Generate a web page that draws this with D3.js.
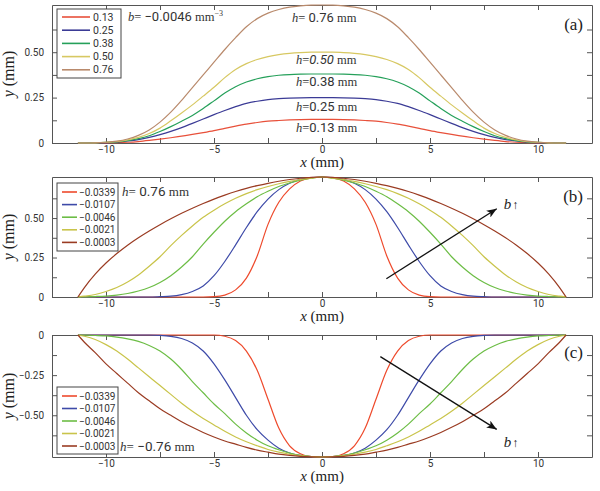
<!DOCTYPE html>
<html><head><meta charset="utf-8">
<script src="https://cdn.jsdelivr.net/npm/d3@7"></script>
<style>body{margin:0;background:#fff;} svg{display:block;}</style>
</head><body><svg id="c" width="600" height="491"></svg>
<script>
// ---------- DATA ----------
const xs = [-11.3,-11,-10.5,-10,-9.5,-9,-8.5,-8,-7.5,-7,-6.5,-6,-5.5,-5,-4.5,-4,-3.5,-3,-2.5,-2,-1.5,-1,-0.5,0,0.5,1,1.5,2,2.5,3,3.5,4,4.5,5,5.5,6,6.5,7,7.5,8,8.5,9,9.5,10,10.5,11,11.3];

// panel (a): b = -0.0046, varying h
const hLabels = ["0.13","0.25","0.38","0.50","0.76"];
const a013 = [0,0,0,0.001,0.002,0.004,0.008,0.014,0.021,0.029,0.038,0.047,0.057,0.068,0.081,0.093,0.104,0.113,0.12,0.124,0.127,0.129,0.13,0.13,0.13,0.129,0.127,0.124,0.12,0.113,0.104,0.093,0.081,0.068,0.057,0.047,0.038,0.029,0.021,0.014,0.008,0.004,0.002,0.001,0,0,0];
const a025 = [0,0,0.001,0.002,0.005,0.011,0.019,0.031,0.046,0.064,0.085,0.108,0.132,0.156,0.179,0.2,0.218,0.23,0.239,0.244,0.247,0.249,0.25,0.25,0.25,0.249,0.247,0.244,0.239,0.23,0.218,0.2,0.179,0.156,0.132,0.108,0.085,0.064,0.046,0.031,0.019,0.011,0.005,0.002,0.001,0,0];
const a038 = [0,0,0.001,0.003,0.006,0.013,0.024,0.04,0.063,0.09,0.12,0.152,0.19,0.232,0.275,0.31,0.336,0.354,0.366,0.373,0.377,0.379,0.38,0.38,0.38,0.379,0.377,0.373,0.366,0.354,0.336,0.31,0.275,0.232,0.19,0.152,0.12,0.09,0.063,0.04,0.024,0.013,0.006,0.003,0.001,0,0];
const a050 = [0,0,0.001,0.004,0.008,0.017,0.031,0.052,0.082,0.122,0.165,0.21,0.258,0.307,0.36,0.405,0.437,0.46,0.476,0.487,0.494,0.498,0.5,0.5,0.5,0.498,0.494,0.487,0.476,0.46,0.437,0.405,0.36,0.307,0.258,0.21,0.165,0.122,0.082,0.052,0.031,0.017,0.008,0.004,0.001,0,0];
const a076 = [0,0,0.001,0.004,0.01,0.022,0.042,0.072,0.115,0.17,0.235,0.305,0.375,0.445,0.515,0.58,0.64,0.685,0.715,0.735,0.748,0.755,0.759,0.76,0.759,0.755,0.748,0.735,0.715,0.685,0.64,0.58,0.515,0.445,0.375,0.305,0.235,0.17,0.115,0.072,0.042,0.022,0.01,0.004,0.001,0,0];

// panel (b): h = 0.76, varying b
const bLabels = ["\u22120.0339","\u22120.0107","\u22120.0046","\u22120.0021","\u22120.0003"];
const b0339 = [0,0,0,0,0,0,0,0,0,0,0,0,0,0.002,0.012,0.045,0.12,0.26,0.46,0.6,0.685,0.735,0.755,0.76,0.755,0.735,0.685,0.6,0.46,0.26,0.12,0.045,0.012,0.002,0,0,0,0,0,0,0,0,0,0,0,0,0];
const b0107 = [0,0,0,0,0,0,0,0,0.002,0.005,0.015,0.035,0.07,0.135,0.225,0.33,0.44,0.54,0.62,0.68,0.72,0.745,0.757,0.76,0.757,0.745,0.72,0.68,0.62,0.54,0.44,0.33,0.225,0.135,0.07,0.035,0.015,0.005,0.002,0,0,0,0,0,0,0,0];
const b0046 = [0,0.001,0.003,0.006,0.012,0.022,0.038,0.06,0.092,0.135,0.19,0.255,0.335,0.41,0.48,0.54,0.59,0.635,0.67,0.7,0.722,0.74,0.752,0.76,0.752,0.74,0.722,0.7,0.67,0.635,0.59,0.54,0.48,0.41,0.335,0.255,0.19,0.135,0.092,0.06,0.038,0.022,0.012,0.006,0.003,0.001,0];
const b0021 = [0,0.005,0.016,0.035,0.06,0.095,0.14,0.195,0.255,0.325,0.39,0.45,0.505,0.55,0.59,0.625,0.655,0.68,0.7,0.717,0.732,0.744,0.753,0.76,0.753,0.744,0.732,0.717,0.7,0.68,0.655,0.625,0.59,0.55,0.505,0.45,0.39,0.325,0.255,0.195,0.14,0.095,0.06,0.035,0.016,0.005,0];
const b0003 = [0,0.06,0.145,0.215,0.275,0.328,0.375,0.418,0.458,0.495,0.53,0.562,0.592,0.62,0.645,0.668,0.688,0.705,0.72,0.733,0.744,0.752,0.758,0.76,0.758,0.752,0.744,0.733,0.72,0.705,0.688,0.668,0.645,0.62,0.592,0.562,0.53,0.495,0.458,0.418,0.375,0.328,0.275,0.215,0.145,0.06,0];

// panel (c): h = -0.76, varying b
const c0339 = [0,0,0,0,0,0,0,0,0,0,0,0,0,0,-0.008,-0.035,-0.1,-0.22,-0.4,-0.58,-0.69,-0.74,-0.758,-0.76,-0.758,-0.74,-0.69,-0.58,-0.4,-0.22,-0.1,-0.035,-0.008,0,0,0,0,0,0,0,0,0,0,0,0,0,0];
const c0107 = [0,0,0,0,0,0,0,0,-0.002,-0.008,-0.022,-0.05,-0.1,-0.18,-0.28,-0.39,-0.5,-0.59,-0.655,-0.705,-0.735,-0.75,-0.758,-0.76,-0.758,-0.75,-0.735,-0.705,-0.655,-0.59,-0.5,-0.39,-0.28,-0.18,-0.1,-0.05,-0.022,-0.008,-0.002,0,0,0,0,0,0,0,0];
const c0046 = [0,-0.001,-0.003,-0.006,-0.013,-0.024,-0.04,-0.065,-0.1,-0.15,-0.215,-0.29,-0.36,-0.43,-0.49,-0.555,-0.61,-0.655,-0.69,-0.715,-0.735,-0.75,-0.757,-0.76,-0.757,-0.75,-0.735,-0.715,-0.69,-0.655,-0.61,-0.555,-0.49,-0.43,-0.36,-0.29,-0.215,-0.15,-0.1,-0.065,-0.04,-0.024,-0.013,-0.006,-0.003,-0.001,0];
const c0021 = [0,-0.008,-0.028,-0.06,-0.1,-0.15,-0.205,-0.26,-0.315,-0.37,-0.425,-0.475,-0.52,-0.56,-0.6,-0.635,-0.665,-0.69,-0.713,-0.73,-0.743,-0.752,-0.757,-0.76,-0.757,-0.752,-0.743,-0.73,-0.713,-0.69,-0.665,-0.635,-0.6,-0.56,-0.52,-0.475,-0.425,-0.37,-0.315,-0.26,-0.205,-0.15,-0.1,-0.06,-0.028,-0.008,0];
const c0003 = [0,-0.045,-0.11,-0.18,-0.24,-0.3,-0.36,-0.41,-0.46,-0.5,-0.54,-0.575,-0.607,-0.635,-0.66,-0.68,-0.7,-0.717,-0.73,-0.742,-0.75,-0.756,-0.759,-0.76,-0.759,-0.756,-0.75,-0.742,-0.73,-0.717,-0.7,-0.68,-0.66,-0.635,-0.607,-0.575,-0.54,-0.5,-0.46,-0.41,-0.36,-0.3,-0.24,-0.18,-0.11,-0.045,0];

const xTicks = [-10,-7.5,-5,-2.5,0,2.5,5,7.5,10];
const xTickLabels = {"-10":"\u221210","-5":"\u22125","0":"0","5":"5","10":"10"};
const yTicksPos = [0,0.125,0.25,0.375,0.5,0.625];
const yLabelsPos = {"0":"0","0.25":"0.25","0.5":"0.50"};
const yTicksNeg = [-0.625,-0.5,-0.375,-0.25,-0.125,0];
const yLabelsNeg = {"0":"0","-0.25":"\u22120.25","-0.5":"\u22120.50"};

// ---------- DRAW ----------
const svg = d3.select('#c');
const SANS = "'Liberation Sans Narrow','Roboto',sans-serif";
const SERIF = "'Liberation Serif','DejaVu Serif',serif";
const X = d3.scaleLinear().domain([-12.5,12.5]).range([52,592]);

const colA = ["#e8503a","#3b3b96","#25a05a","#d7c862","#b98a6c"];
const colB = ["#ee4a2c","#3d4aa8","#6cbd45","#c9c44a","#9a3b22"];

svg.append('defs').append('marker')
  .attr('id','arr').attr('viewBox','0 0 10 8').attr('refX',10).attr('refY',4)
  .attr('markerWidth',11).attr('markerHeight',8).attr('markerUnits','userSpaceOnUse')
  .attr('orient','auto')
  .append('path').attr('d','M0,0 L10,4 L0,8 L2.5,4 Z').attr('fill','#111');

function panel(cfg){
  const Y = d3.scaleLinear().domain(cfg.ydom).range([cfg.bottom, cfg.top]);
  const g = svg.append('g');
  const fmtX = d => xTickLabels[String(d)] || "";
  const fmtY = d => cfg.ylabels[String(d)] || "";
  const styleAxis = (sel) => {
    sel.select('.domain').attr('stroke','#555').attr('stroke-width',1);
    sel.selectAll('.tick line').attr('stroke','#555');
    sel.selectAll('.tick text').attr('fill','#333').style('font-family',SANS).style('font-size','10px');
  };
  g.append('g').attr('transform',`translate(0,${cfg.bottom})`)
    .call(d3.axisBottom(X).tickValues(xTicks).tickSizeInner(-5).tickSizeOuter(0).tickPadding(3).tickFormat(fmtX))
    .call(styleAxis);
  g.append('g').attr('transform',`translate(0,${cfg.top})`)
    .call(d3.axisTop(X).tickValues(xTicks).tickSizeInner(-5).tickSizeOuter(0).tickFormat(''))
    .call(styleAxis);
  g.append('g').attr('transform',`translate(52,0)`)
    .call(d3.axisLeft(Y).tickValues(cfg.yticks).tickSizeInner(-5).tickSizeOuter(0).tickPadding(8).tickFormat(fmtY))
    .call(styleAxis);
  g.append('g').attr('transform',`translate(592,0)`)
    .call(d3.axisRight(Y).tickValues(cfg.yticks).tickSizeInner(-5).tickSizeOuter(0).tickFormat(''))
    .call(styleAxis);

  const line = d3.line().x((d,i)=>X(xs[i])).y(d=>Y(d)).curve(d3.curveMonotoneX);
  cfg.series.forEach((s,i)=>{
    g.append('path').attr('d',line(s)).attr('fill','none')
      .attr('stroke',cfg.colors[i]).attr('stroke-width',1.2);
  });

  // legend
  const L = cfg.legend;
  g.append('rect').attr('x',L.x).attr('y',L.y).attr('width',L.w).attr('height',L.h)
    .attr('fill','#fff').attr('stroke','#444').attr('stroke-width',1);
  cfg.labels.forEach((lab,i)=>{
    const yy = L.row0 + i*L.step;
    g.append('line').attr('x1',L.lx0).attr('x2',L.lx1).attr('y1',yy).attr('y2',yy)
      .attr('stroke',cfg.colors[i]).attr('stroke-width',1.6);
    g.append('text').attr('x',L.tx).attr('y',yy).attr('dy','0.35em')
      .style('font-family',SANS).style('font-size',L.fs+'px').attr('fill','#333').text(lab);
  });

  // axis titles
  const xt = g.append('text').attr('x',X(0)).attr('y',cfg.bottom+24).attr('text-anchor','middle')
    .style('font-family',SERIF).style('font-size','15px').attr('fill','#222');
  xt.append('tspan').style('font-style','italic').text('x');
  xt.append('tspan').text(' (mm)');
  const cy = (cfg.top+cfg.bottom)/2;
  const yt = g.append('text').attr('transform',`translate(14,${cy}) rotate(-90)`).attr('text-anchor','middle')
    .style('font-family',SERIF).style('font-size','16px').attr('fill','#222');
  yt.append('tspan').style('font-style','italic').text('y');
  yt.append('tspan').text(' (mm)');

  // panel tag
  g.append('text').attr('x',583).attr('y',cfg.top+cfg.tagDy).attr('text-anchor','end')
    .style('font-family',SERIF).style('font-size','17px').attr('fill','#222').text(cfg.tag);

  if (cfg.arrow){
    const A = cfg.arrow;
    g.append('line').attr('x1',X(A[0])).attr('y1',Y(A[1])).attr('x2',X(A[2])).attr('y2',Y(A[3]))
      .attr('stroke','#111').attr('stroke-width',1.3).attr('marker-end','url(#arr)');
    const t = g.append('text').attr('x',X(A[2])+7).attr('y',Y(A[3])+cfg.arrowLabDy)
      .style('font-family',SERIF).style('font-size','15px').attr('fill','#222');
    t.append('tspan').style('font-style','italic').text('b');
    t.append('tspan').style('font-size','12px').attr('dx','1').text('\u2191');
  }
  return {g, Y};
}

// helper for "h= value mm" labels
function hLabel(g, x, y, val, italicVal, size){
  const t = g.append('text').attr('x',x).attr('y',y)
    .style('font-family',SERIF).style('font-size',size+'px').attr('fill','#333');
  t.append('tspan').style('font-style','italic').text('h');
  t.append('tspan').text('=');
  t.append('tspan').style('font-family',SANS).style('font-size',(size+0.5)+'px')
    .style('font-style',italicVal?'italic':'normal').text(val);
  t.append('tspan').text(' mm');
  return t;
}

const pA = panel({top:5,bottom:143,ydom:[0,0.76],yticks:yTicksPos,ylabels:yLabelsPos,
  series:[a013,a025,a038,a050,a076],colors:colA,labels:hLabels,
  legend:{x:57,y:9,w:64,h:69,row0:17,step:13.2,lx0:62,lx1:90,tx:93,fs:10.5},
  tag:'(a)',tagDy:25});
const pB = panel({top:177,bottom:297,ydom:[0,0.76],yticks:yTicksPos,ylabels:yLabelsPos,
  series:[b0339,b0107,b0046,b0021,b0003],colors:colB,labels:bLabels,
  legend:{x:57,y:183,w:61,h:68,row0:192,step:12.6,lx0:62,lx1:77,tx:79,fs:10},
  tag:'(b)',tagDy:25,arrow:[2.98,0.116,8.09,0.559],arrowLabDy:0});
const pC = panel({top:335,bottom:457,ydom:[-0.76,0],yticks:yTicksNeg,ylabels:yLabelsNeg,
  series:[c0339,c0107,c0046,c0021,c0003],colors:colB,labels:bLabels,
  legend:{x:57,y:387,w:61,h:67,row0:396,step:12.5,lx0:62,lx1:77,tx:79,fs:10},
  tag:'(c)',tagDy:23,arrow:[2.7,-0.135,8.09,-0.588],arrowLabDy:18});

// annotations panel (a)
const tb = pA.g.append('text').attr('x',128).attr('y',21)
  .style('font-family',SERIF).style('font-size','12.5px').attr('fill','#333');
tb.append('tspan').style('font-style','italic').text('b');
tb.append('tspan').text('= ');
tb.append('tspan').style('font-family',SANS).style('font-size','13px').text('\u22120.0046');
tb.append('tspan').text(' mm');
tb.append('tspan').attr('dy','-5').style('font-size','8px').text('\u22123');

hLabel(pA.g, 292, 22, ' 0.76', false, 12.5);
hLabel(pA.g, 296, 64, '0.50', true, 12.5);
hLabel(pA.g, 296, 86, '0.38', false, 12.5);
hLabel(pA.g, 296, 111, '0.25', false, 12.5);
hLabel(pA.g, 296, 132, '0.13', false, 12.5);

hLabel(pB.g, 122, 196, ' 0.76', false, 13);
hLabel(pC.g, 120, 451, ' \u22120.76', false, 13);
</script></body></html>
